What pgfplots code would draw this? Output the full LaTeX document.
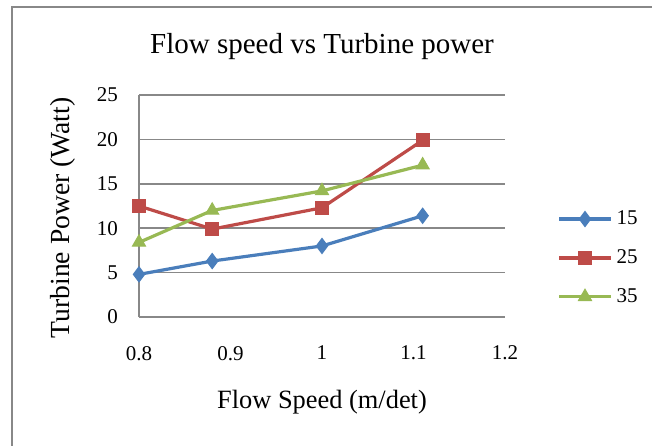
\documentclass[border=0pt]{standalone}
\usepackage{fontspec}
\setmainfont{Liberation Serif}
\usepackage{pgfplots}
\pgfplotsset{compat=1.18}
\definecolor{sblue}{HTML}{4A7EBB}
\definecolor{sred}{HTML}{BE4B48}
\definecolor{sgreen}{HTML}{98B954}
\definecolor{gridgray}{HTML}{888888}
\begin{document}
\begin{tikzpicture}
\path[use as bounding box] (0,0) rectangle (326pt,222.5pt);
\draw[gridgray, line width=1pt] (6pt,-5pt) |- (340pt,218.75pt);
\begin{axis}[
  at={(69.5pt,64pt)}, anchor=south west,
  scale only axis, width=183pt, height=111pt,
  xmin=0.8, xmax=1.2, ymin=0, ymax=25,
  xtick={0.8,0.9,1,1.1,1.2}, xticklabels={0.8,0.9,1,1.1,1.2},
  ytick={0,5,10,15,20,25},
  axis x line*=bottom, axis y line*=left,
  axis line style={-, gridgray, line width=0.75pt},
  major tick length=0pt,
  ymajorgrids, grid style={gridgray, line width=0.75pt},
  /pgf/number format/assume math mode=true,
  tick label style={font=\fontsize{10.5}{12}\selectfont, black},
  xticklabel style={yshift=-11pt},
  yticklabel style={xshift=-7pt},
  title={Flow speed vs Turbine power},
  title style={font=\fontsize{14.5}{16}\selectfont, at={(0.5,1)}, anchor=south, yshift=8pt},
  xlabel={Flow Speed (m/det)},
  ylabel={Turbine Power (Watt)},
  xlabel style={font=\fontsize{13.2}{15}\selectfont, yshift=-8pt},
  ylabel style={font=\fontsize{13.8}{15}\selectfont, yshift=4pt, xshift=-6pt},
  legend style={draw=none, fill=none, at={(1,0.266)}, anchor=west, xshift=26pt,
    font=\fontsize{10.5}{12}\selectfont, row sep=7pt, inner sep=0pt},
  legend cell align=left,
  legend image code/.code={\draw[#1, mark repeat=2, mark phase=2] plot coordinates {(0pt,0pt) (13pt,0pt) (26pt,0pt)};},
  every axis plot/.append style={line width=1.6pt},
  clip=false,
]
\addplot[sblue, mark=diamond*, mark size=3.8pt, mark options={solid, line width=0.5pt}] coordinates {(0.8,4.8) (0.88,6.3) (1.0,8.0) (1.11,11.4)};
\addlegendentry{15}
\addplot[sred, mark=square*, mark size=3.2pt, mark options={solid, line width=0.5pt}] coordinates {(0.8,12.5) (0.88,9.9) (1.0,12.3) (1.11,19.9)};
\addlegendentry{25}
\addplot[sgreen, mark=triangle*, mark size=3.8pt, mark options={solid, line width=0.5pt}] coordinates {(0.8,8.4) (0.88,12.0) (1.0,14.2) (1.11,17.1)};
\addlegendentry{35}
\end{axis}
\end{tikzpicture}
\end{document}
